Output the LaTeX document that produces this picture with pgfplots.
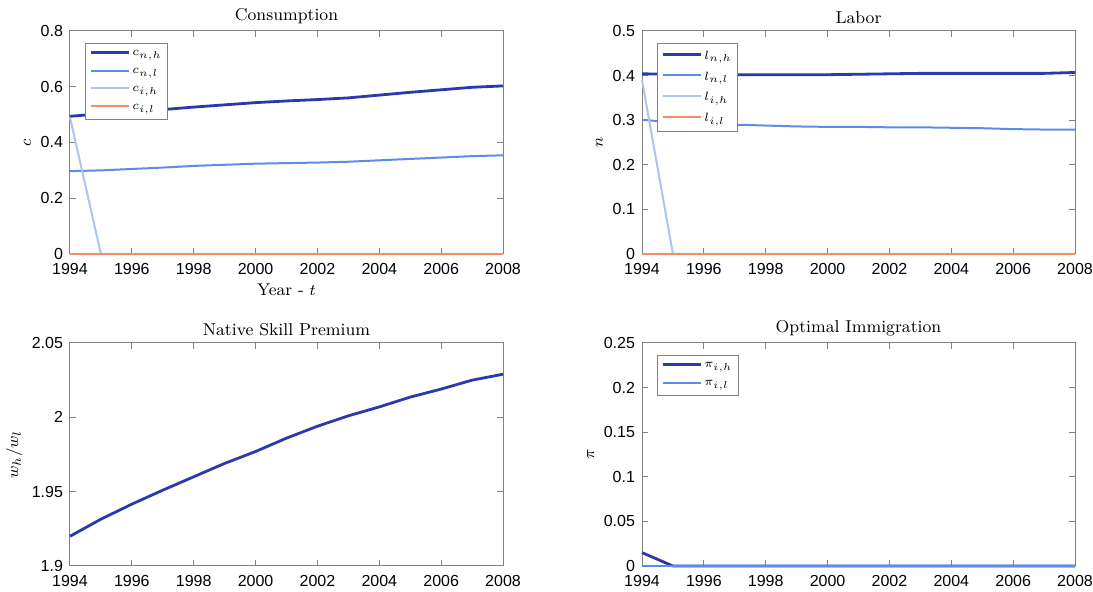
\documentclass[border=0pt]{standalone}
\usepackage{fontspec}
\usepackage{pgfplots}
\pgfplotsset{compat=1.18}
\newfontfamily\arialf{Liberation Sans}
\definecolor{cA}{RGB}{42,58,172}
\definecolor{cB}{RGB}{90,140,235}
\definecolor{cC}{RGB}{172,196,242}
\definecolor{cD}{RGB}{246,140,100}
\definecolor{axg}{RGB}{130,130,130}
\pgfplotsset{
  myax/.style={
    width=216.5pt, height=111.5pt, scale only axis,
    anchor=south west,
    xmin=1994, xmax=2008, xtick={1994,1996,...,2008},
    axis line style={axg, line width=0.5pt},
    tick style={axg, line width=0.5pt},
    major tick length=3pt,
    tick align=inside,
    xtick pos=both, ytick pos=both,
    xticklabel style={font=\arialf\fontsize{8}{9}\selectfont, /pgf/number format/1000 sep={}, yshift=-1pt},
    yticklabel style={font=\arialf\fontsize{8}{9}\selectfont},
    /pgf/number format/assume math mode=true,
    x tick label style={/pgf/number format/1000 sep={}},
    title style={font=\fontsize{8.6}{10}\selectfont, yshift=-6pt},
    ylabel style={font=\fontsize{8.5}{10}\selectfont, yshift=-2pt},
    xlabel style={font=\fontsize{8.5}{10}\selectfont, yshift=2pt},
    legend cell align=left,
    legend style={at={(0.035,0.945)}, anchor=north west, draw=axg, line width=0.5pt,
      font=\fontsize{6.5}{7.5}\selectfont, row sep=2.8pt, inner xsep=2pt, inner ysep=2.5pt,
      nodes={inner sep=1pt, text depth=0.15em}},
    legend image code/.code={\draw[#1] (0pt,1pt) -- (19pt,1pt);},
    every axis plot/.append style={line width=1pt, line join=round},
    clip=false,
  }
}
\begin{document}
\begin{tikzpicture}
\useasboundingbox (0,0) rectangle (546.5pt,296pt);
% Consumption
\begin{axis}[myax, at={(35pt,169pt)}, ymin=0, ymax=0.8, ytick={0,0.2,0.4,0.6,0.8},
  yticklabels={0,0.2,0.4,0.6,0.8},
  title={Consumption}, ylabel={$c$}, xlabel={Year - $t$}]
\addplot[cA, line width=1.4pt] coordinates {(1994,0.494)(1995,0.503)(1996,0.511)(1997,0.518)(1998,0.527)(1999,0.535)(2000,0.543)(2001,0.549)(2002,0.554)(2003,0.560)(2004,0.570)(2005,0.580)(2006,0.589)(2007,0.598)(2008,0.603)};
\addplot[cB] coordinates {(1994,0.297)(1995,0.300)(1996,0.305)(1997,0.310)(1998,0.316)(1999,0.320)(2000,0.324)(2001,0.326)(2002,0.328)(2003,0.331)(2004,0.336)(2005,0.341)(2006,0.346)(2007,0.351)(2008,0.354)};
\addplot[cC] coordinates {(1994,0.49)(1995,0)(1996,0)(1997,0)(1998,0)(1999,0)(2000,0)(2001,0)(2002,0)(2003,0)(2004,0)(2005,0)(2006,0)(2007,0)(2008,0)};
\addplot[cD] coordinates {(1994,0)(1995,0)(1996,0)(1997,0)(1998,0)(1999,0)(2000,0)(2001,0)(2002,0)(2003,0)(2004,0)(2005,0)(2006,0)(2007,0)(2008,0)};
\legend{$c_{n,h}$,$c_{n,l}$,$c_{i,h}$,$c_{i,l}$}
\end{axis}
% Labor
\begin{axis}[myax, at={(321pt,169pt)}, ymin=0, ymax=0.5, ytick={0,0.1,0.2,0.3,0.4,0.5},
  yticklabels={0,0.1,0.2,0.3,0.4,0.5},
  title={Labor}, ylabel={$n$}]
\addplot[cA, line width=1.4pt] coordinates {(1994,0.404)(1995,0.403)(1996,0.402)(1997,0.402)(1998,0.402)(1999,0.402)(2000,0.402)(2001,0.403)(2002,0.404)(2003,0.405)(2004,0.405)(2005,0.405)(2006,0.405)(2007,0.405)(2008,0.407)};
\addplot[cB] coordinates {(1994,0.301)(1995,0.295)(1996,0.292)(1997,0.290)(1998,0.288)(1999,0.286)(2000,0.285)(2001,0.285)(2002,0.284)(2003,0.284)(2004,0.283)(2005,0.282)(2006,0.280)(2007,0.279)(2008,0.279)};
\addplot[cC] coordinates {(1994,0.39)(1995,0)(1996,0)(1997,0)(1998,0)(1999,0)(2000,0)(2001,0)(2002,0)(2003,0)(2004,0)(2005,0)(2006,0)(2007,0)(2008,0)};
\addplot[cD] coordinates {(1994,0)(1995,0)(1996,0)(1997,0)(1998,0)(1999,0)(2000,0)(2001,0)(2002,0)(2003,0)(2004,0)(2005,0)(2006,0)(2007,0)(2008,0)};
\legend{$l_{n,h}$,$l_{n,l}$,$l_{i,h}$,$l_{i,l}$}
\end{axis}
% Skill premium
\begin{axis}[myax, at={(35pt,13pt)}, ymin=1.9, ymax=2.05, ytick={1.9,1.95,2,2.05},
  yticklabels={1.9,1.95,2,2.05},
  title={Native Skill Premium}, ylabel={$w_h/w_l$}]
\addplot[cA, line width=1.4pt] coordinates {(1994,1.920)(1995,1.9315)(1996,1.9416)(1997,1.951)(1998,1.960)(1999,1.969)(2000,1.977)(2001,1.986)(2002,1.994)(2003,2.001)(2004,2.007)(2005,2.0136)(2006,2.019)(2007,2.025)(2008,2.029)};
\end{axis}
% Optimal immigration
\begin{axis}[myax, at={(321pt,13pt)}, ymin=0, ymax=0.25, ytick={0,0.05,0.1,0.15,0.2,0.25},
  yticklabels={0,0.05,0.1,0.15,0.2,0.25},
  title={Optimal Immigration}, ylabel={$\pi$}]
\addplot[cA, line width=1.4pt] coordinates {(1994,0.015)(1995,0)(1996,0)(1997,0)(1998,0)(1999,0)(2000,0)(2001,0)(2002,0)(2003,0)(2004,0)(2005,0)(2006,0)(2007,0)(2008,0)};
\addplot[cB] coordinates {(1994,0)(1995,0)(1996,0)(1997,0)(1998,0)(1999,0)(2000,0)(2001,0)(2002,0)(2003,0)(2004,0)(2005,0)(2006,0)(2007,0)(2008,0)};
\legend{$\pi_{i,h}$,$\pi_{i,l}$}
\end{axis}
\end{tikzpicture}
\end{document}
